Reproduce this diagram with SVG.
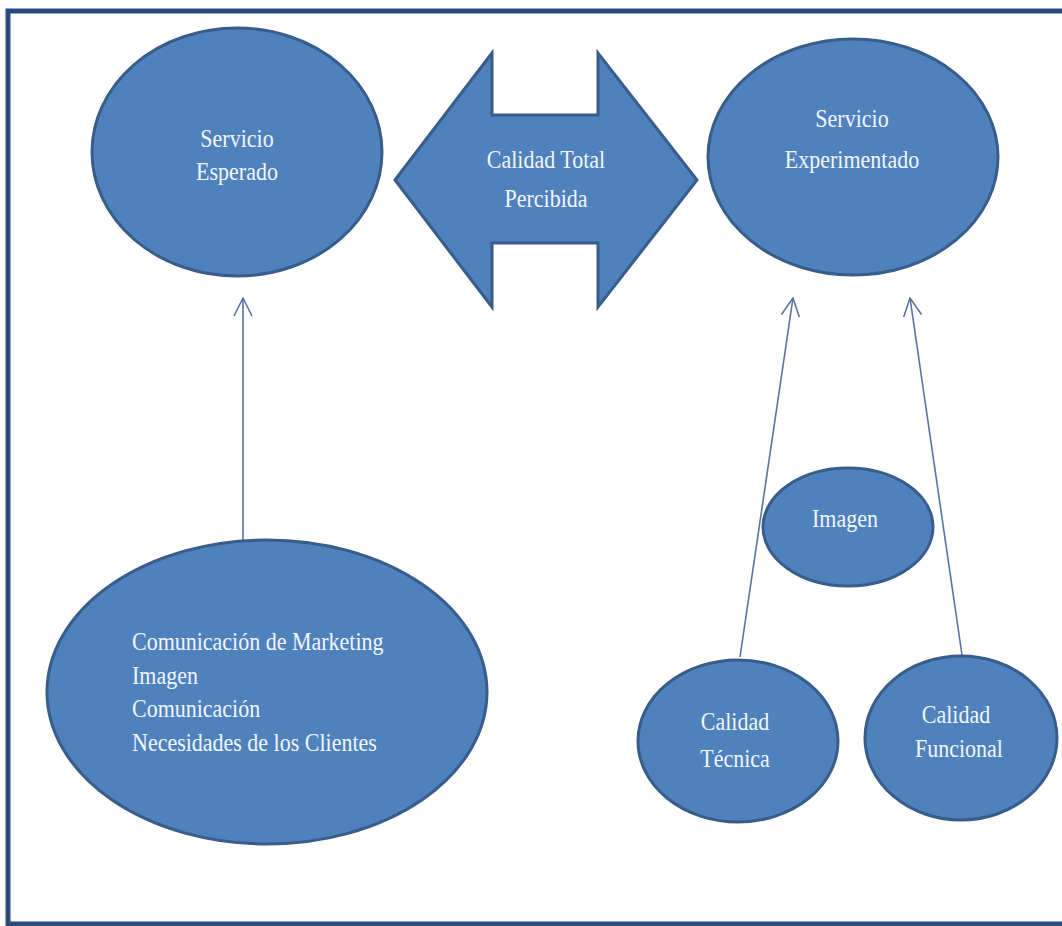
<svg xmlns="http://www.w3.org/2000/svg" width="1062" height="926" viewBox="0 0 1062 926">
<style>
.shape{fill:#4f81bd;stroke:#385d8a;stroke-width:3}
.t{font-family:"Liberation Serif","Times New Roman",serif;font-size:25px;fill:#f2f6ff}
.c{text-anchor:middle}
.con{stroke:#5a73a3;stroke-width:1.6;fill:none}
</style>
<defs>
<marker id="open" viewBox="0 0 20 20" refX="19" refY="10" markerWidth="20" markerHeight="20" markerUnits="userSpaceOnUse" orient="auto">
<path d="M1,1 L19,10 L1,19" fill="none" stroke="#5a73a3" stroke-width="1.6"/>
</marker>
</defs>
<rect x="0" y="0" width="1062" height="926" fill="#ffffff"/>
<rect x="8" y="11" width="1090" height="913" fill="none" stroke="#2a4a80" stroke-width="5"/>
<g id="connectors">
<line class="con" x1="243" y1="540" x2="243" y2="298" marker-end="url(#open)"/>
<line class="con" x1="740" y1="657" x2="793" y2="298" marker-end="url(#open)"/>
<line class="con" x1="962" y1="655" x2="910" y2="298" marker-end="url(#open)"/>
</g>
<g id="servicio-esperado">
<ellipse class="shape" cx="237" cy="152" rx="145" ry="124"/>
<text class="t c" transform="translate(237,147) scale(0.88,1)">Servicio</text>
<text class="t c" transform="translate(237,180) scale(0.88,1)">Esperado</text>
</g>
<g id="calidad-total">
<polygon class="shape" points="395,180 492,53 492,115 598,115 598,53 697,180 598,307 598,243 492,243 492,307"/>
<text class="t c" transform="translate(546,168) scale(0.88,1)">Calidad Total</text>
<text class="t c" transform="translate(546,207) scale(0.88,1)">Percibida</text>
</g>
<g id="servicio-experimentado">
<ellipse class="shape" cx="853" cy="157" rx="145" ry="118"/>
<text class="t c" transform="translate(852,127) scale(0.88,1)">Servicio</text>
<text class="t c" transform="translate(852,168) scale(0.88,1)">Experimentado</text>
</g>
<g id="comunicacion">
<ellipse class="shape" cx="267" cy="692" rx="220" ry="152"/>
<text class="t" transform="translate(132,650) scale(0.88,1)">Comunicación de Marketing</text>
<text class="t" transform="translate(132,684) scale(0.88,1)">Imagen</text>
<text class="t" transform="translate(132,717) scale(0.88,1)">Comunicación</text>
<text class="t" transform="translate(132,751) scale(0.88,1)">Necesidades de los Clientes</text>
</g>
<g id="imagen">
<ellipse class="shape" cx="848" cy="527" rx="85" ry="59"/>
<text class="t c" transform="translate(845,527) scale(0.88,1)">Imagen</text>
</g>
<g id="calidad-tecnica">
<ellipse class="shape" cx="738" cy="741" rx="100" ry="81"/>
<text class="t c" transform="translate(735,730) scale(0.88,1)">Calidad</text>
<text class="t c" transform="translate(735,767) scale(0.88,1)">Técnica</text>
</g>
<g id="calidad-funcional">
<ellipse class="shape" cx="961" cy="738" rx="96" ry="82"/>
<text class="t c" transform="translate(956,723) scale(0.88,1)">Calidad</text>
<text class="t c" transform="translate(959,757) scale(0.88,1)">Funcional</text>
</g>
</svg>
